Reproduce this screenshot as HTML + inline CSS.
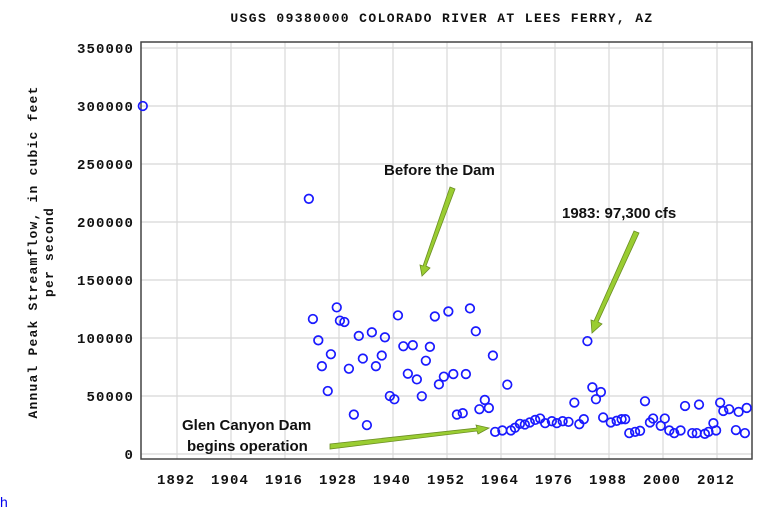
<!DOCTYPE html>
<html><head><meta charset="utf-8">
<style>
html,body{margin:0;padding:0;background:#fff;}
body{width:768px;height:507px;overflow:hidden;position:relative;}
svg{position:absolute;left:0;top:0;}
</style></head>
<body>
<svg id="chart" width="768" height="507" viewBox="0 0 768 507" xmlns="http://www.w3.org/2000/svg">
  <text x="442" y="22" text-anchor="middle" font-family="Liberation Mono, monospace" font-weight="bold" font-size="13" letter-spacing="1.4" fill="#111">USGS 09380000 COLORADO RIVER AT LEES FERRY, AZ</text>
  <g id="grid"></g>
  <g id="yticks"></g>
  <g id="xticks"></g>
  <rect x="141" y="42" width="611" height="417" fill="none" stroke="#444" stroke-width="1.5"/>
  <text transform="translate(37,252) rotate(-90)" text-anchor="middle" font-family="Liberation Mono, monospace" font-weight="bold" font-size="13" letter-spacing="1.2" fill="#111">Annual Peak Streamflow, in cubic feet</text>
  <text transform="translate(53,252) rotate(-90)" text-anchor="middle" font-family="Liberation Mono, monospace" font-weight="bold" font-size="13" letter-spacing="1.2" fill="#111">per second</text>
  <g id="points"></g>
  <g font-family="Liberation Sans, sans-serif" font-weight="bold" font-size="15" fill="#111">
    <text x="384" y="175">Before the Dam</text>
    <text x="562" y="218">1983: 97,300 cfs</text>
    <text x="182" y="430">Glen Canyon Dam</text>
    <text x="187" y="451">begins operation</text>
  </g>
  <g fill="#9acd32" stroke="#6b8e23" stroke-width="0.8">
    <polygon points="450,187 455,189 426,266 430,268 422,276 420,265 423,266"/>
    <polygon points="634,231 639,233 598,322 602,324 592,333 591,320 594,321"/>
    <polygon points="330,444 330,449 477,431 478,434 489,428 476,425 477,428"/>
  </g>
  <text x="0" y="507" font-family="Liberation Sans, sans-serif" font-size="14" fill="#0000ee">h</text>
</svg>
<script>
const yearData = [1884.4,1921.3,1922.2,1927.5,1923.4,1928.2,1929.2,1924.2,1926.2,1925.5,1930.2,1932.4,1933.3,1935.3,1936.2,1937.5,1938.2,1931.3,1934.2,1939.3,1940.3,1941.1,1942.3,1944.4,1943.3,1945.3,1946.4,1947.3,1948.2,1949.3,1952.3,1957.1,1958.4,1950.2,1951.3,1953.4,1956.2,1954.2,1955.5,1959.2,1960.4,1962.2,1965.4,1961.3,1962.7,1964.3,1966.2,1967.1,1968.2,1969.3,1970.4,1971.6,1972.7,1973.8,1975.3,1976.4,1977.7,1979,1980.3,1981.4,1982.4,1983.2,1984.3,1986.2,1985.1,1986.7,1988.4,1989.7,1990.8,1991.6,1992.5,1993.8,1994.9,1996,1997.1,1997.8,1999.5,2000.4,2001.4,2002.5,2003.9,2004.9,2006.5,2007.5,2008,2009.3,2010.1,2011.2,2011.8,2012.7,2013.4,2014.7,2016.2,2016.8,2018.2,2018.6];
const flowData = [300000,220000,116400,126400,98000,115000,113800,75700,86000,54300,73500,101800,82300,104900,75700,84900,100600,34000,24900,50000,47200,119500,92900,93800,69200,64300,49800,80400,92400,118600,122900,125500,105800,60000,66700,68900,68900,34000,35200,38600,46600,84900,59800,39700,19100,20300,20300,22600,26000,25400,27200,29400,30600,26600,28300,26600,28300,27700,44300,25700,30000,97300,57500,53400,47200,31500,27200,28600,30000,30000,18000,19100,20000,45500,27200,30600,24300,30600,20300,18000,20300,41400,18000,18000,42600,17400,19100,26600,20300,44300,37100,38600,20600,36300,18000,39700];
const yTickValues = [0,50000,100000,150000,200000,250000,300000,350000];
const xTickYears = [1892,1904,1916,1928,1940,1952,1964,1976,1988,2000,2012];

const NS = "http://www.w3.org/2000/svg";
function xScale(yr){ return 177 + (yr - 1892) * 4.5; }
function yScale(v){ return 454 - v / 50000 * 58; }
function mk(tag, attrs, parent){ const e=document.createElementNS(NS,tag); for(const k in attrs) e.setAttribute(k,attrs[k]); parent.appendChild(e); return e; }

const grid=document.getElementById('grid'), yt=document.getElementById('yticks'), xt=document.getElementById('xticks'), pts=document.getElementById('points');
yTickValues.forEach(v=>{
  const y=yScale(v);
  const l=mk('line',{x1:141,x2:752,y1:y,y2:y,stroke:'#d8d8d8','stroke-width':1.2},grid);
  
  
  const t=mk('text',{x:134,y:y+5,'text-anchor':'end','font-family':'Liberation Mono, monospace','font-weight':'bold','font-size':'14','letter-spacing':'1.1',fill:'#111'},yt);
  t.textContent=String(v);
  
  
});
xTickYears.forEach(yr=>{
  const x=xScale(yr);
  const l=mk('line',{x1:x,x2:x,y1:42,y2:459,stroke:'#d8d8d8','stroke-width':1.2},grid);
  
  
  const t=mk('text',{x:x-1,y:484,'text-anchor':'middle','font-family':'Liberation Mono, monospace','font-weight':'bold','font-size':'14','letter-spacing':'1.1',fill:'#111'},xt);
  t.textContent=String(yr);
  
  
});
yearData.forEach((yr,i)=>{
  const c=mk('circle',{cx:xScale(yr),cy:yScale(flowData[i]),r:4.3,fill:'none',stroke:'#1a1aff','stroke-width':1.7},pts);
  
  
});
</script>
</body></html>
